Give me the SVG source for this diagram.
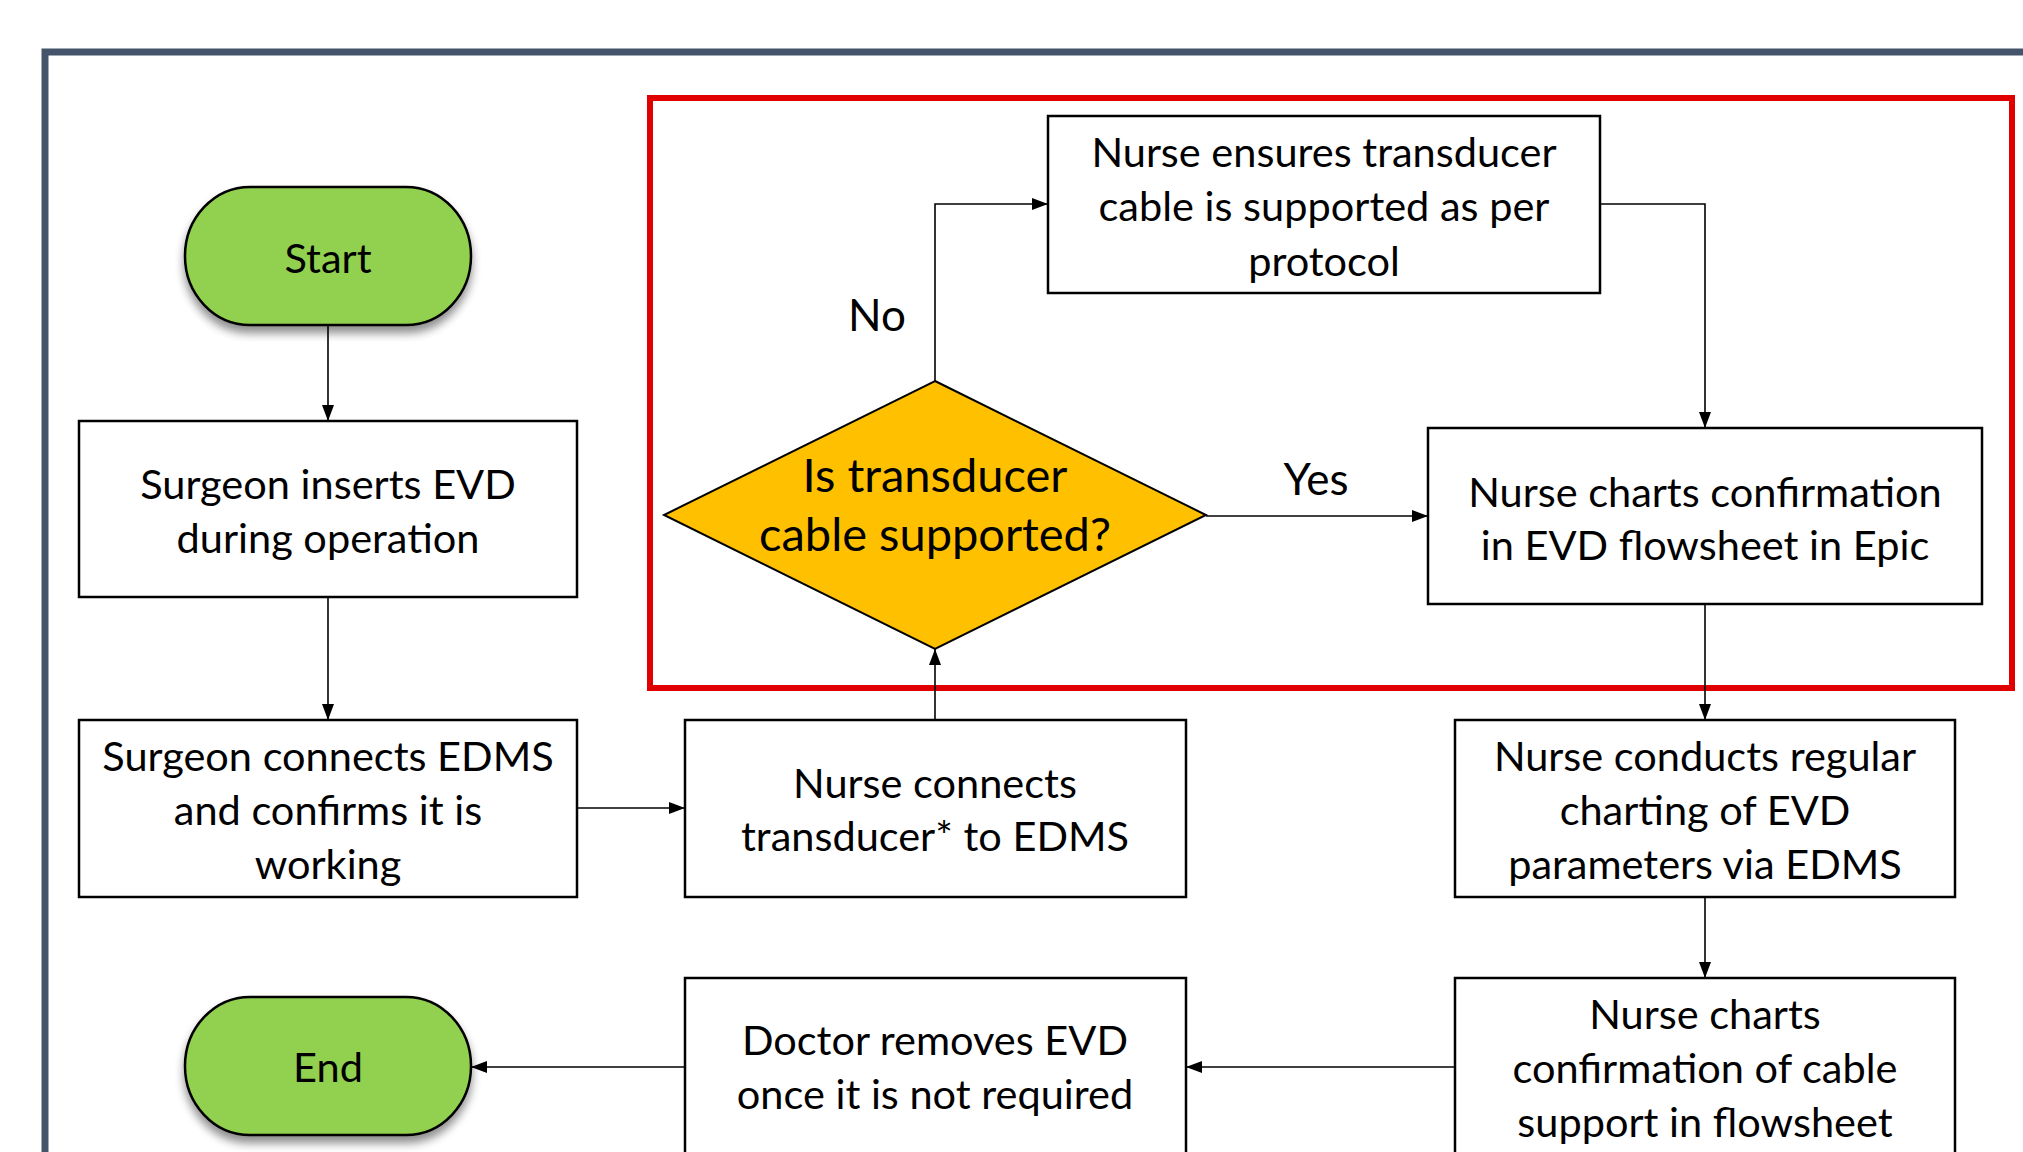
<svg xmlns="http://www.w3.org/2000/svg" width="2023" height="1152" viewBox="0 0 2023 1152">
<defs>
<style>
.box{fill:#ffffff;stroke:#000;stroke-width:2.5}
.term{fill:#92D050;stroke:#000;stroke-width:2.5}
.dia{fill:#FFC000;stroke:#000;stroke-width:2}
.t{font-family:Lato,"Liberation Sans",sans-serif;font-size:41.5px;fill:#000;text-anchor:middle}
.td{font-family:Lato,"Liberation Sans",sans-serif;font-size:47px;fill:#000;text-anchor:middle}
.lbl{font-family:Lato,"Liberation Sans",sans-serif;font-size:44px;fill:#000;text-anchor:middle}
.c{fill:none;stroke:#000;stroke-width:1.6}
</style>
<marker id="ah" viewBox="0 0 16 12" refX="16" refY="6" markerWidth="16" markerHeight="12" markerUnits="userSpaceOnUse" orient="auto">
<path d="M0,0 L16,6 L0,12 Z" fill="#000"/>
</marker>
<filter id="sh" x="-20%" y="-20%" width="140%" height="150%">
<feGaussianBlur in="SourceAlpha" stdDeviation="5"/>
<feOffset dx="0" dy="7" result="b"/>
<feComponentTransfer><feFuncA type="linear" slope="0.45"/></feComponentTransfer>
<feMerge><feMergeNode/><feMergeNode in="SourceGraphic"/></feMerge>
</filter>
</defs>
<rect width="2023" height="1152" fill="#ffffff"/>
<g id="frame">
<path d="M45,1160 V52 H2030" fill="none" stroke="#44546A" stroke-width="7"/>
</g>
<g id="highlight">
<rect x="650" y="98" width="1362" height="590" fill="none" stroke="#E00000" stroke-width="6"/>
</g>
<g id="connectors">
<path class="c" d="M328,325 V421" marker-end="url(#ah)"/>
<path class="c" d="M328,597 V720" marker-end="url(#ah)"/>
<path class="c" d="M577,808 H685" marker-end="url(#ah)"/>
<path class="c" d="M935,720 V649" marker-end="url(#ah)"/>
<path class="c" d="M935,381 V204 H1048" marker-end="url(#ah)"/>
<path class="c" d="M1600,204 H1705 V428" marker-end="url(#ah)"/>
<path class="c" d="M1206,516 H1428" marker-end="url(#ah)"/>
<path class="c" d="M1705,604 V720" marker-end="url(#ah)"/>
<path class="c" d="M1705,897 V978" marker-end="url(#ah)"/>
<path class="c" d="M1455,1067 H1186" marker-end="url(#ah)"/>
<path class="c" d="M685,1067 H471" marker-end="url(#ah)"/>
<text class="lbl" x="877" y="331">No</text>
<text class="lbl" x="1316" y="495">Yes</text>
</g>
<g id="start">
<rect class="term" x="185" y="187" width="286" height="138" rx="65" ry="69" filter="url(#sh)"/>
<text class="t" x="328" y="273">Start</text>
</g>
<g id="surgeon-inserts">
<rect class="box" x="79" y="421" width="498" height="176"/>
<text class="t" x="328" y="499">Surgeon inserts EVD</text>
<text class="t" x="328" y="553">during operation</text>
</g>
<g id="surgeon-connects">
<rect class="box" x="79" y="720" width="498" height="177"/>
<text class="t" x="328" y="771">Surgeon connects EDMS</text>
<text class="t" x="328" y="825">and confirms it is</text>
<text class="t" x="328" y="879">working</text>
</g>
<g id="nurse-connects">
<rect class="box" x="685" y="720" width="501" height="177"/>
<text class="t" x="935" y="798">Nurse connects</text>
<text class="t" x="935" y="851">transducer* to EDMS</text>
</g>
<g id="decision">
<polygon class="dia" points="935,381 1206,515 935,649 664,515"/>
<text class="td" x="935" y="492">Is transducer</text>
<text class="td" x="935" y="551">cable supported?</text>
</g>
<g id="nurse-ensures">
<rect class="box" x="1048" y="116" width="552" height="177"/>
<text class="t" x="1324" y="167">Nurse ensures transducer</text>
<text class="t" x="1324" y="221">cable is supported as per</text>
<text class="t" x="1324" y="276">protocol</text>
</g>
<g id="nurse-charts-epic">
<rect class="box" x="1428" y="428" width="554" height="176"/>
<text class="t" x="1705" y="507">Nurse charts confirmation</text>
<text class="t" x="1705" y="560">in EVD flowsheet in Epic</text>
</g>
<g id="nurse-conducts">
<rect class="box" x="1455" y="720" width="500" height="177"/>
<text class="t" x="1705" y="771">Nurse conducts regular</text>
<text class="t" x="1705" y="825">charting of EVD</text>
<text class="t" x="1705" y="879">parameters via EDMS</text>
</g>
<g id="nurse-charts-cable">
<rect class="box" x="1455" y="978" width="500" height="200"/>
<text class="t" x="1705" y="1029">Nurse charts</text>
<text class="t" x="1705" y="1083">confirmation of cable</text>
<text class="t" x="1705" y="1137">support in flowsheet</text>
</g>
<g id="doctor-removes">
<rect class="box" x="685" y="978" width="501" height="200"/>
<text class="t" x="935" y="1055">Doctor removes EVD</text>
<text class="t" x="935" y="1109">once it is not required</text>
</g>
<g id="end">
<rect class="term" x="185" y="997" width="286" height="138" rx="65" ry="69" filter="url(#sh)"/>
<text class="t" x="328" y="1082">End</text>
</g>
</svg>
